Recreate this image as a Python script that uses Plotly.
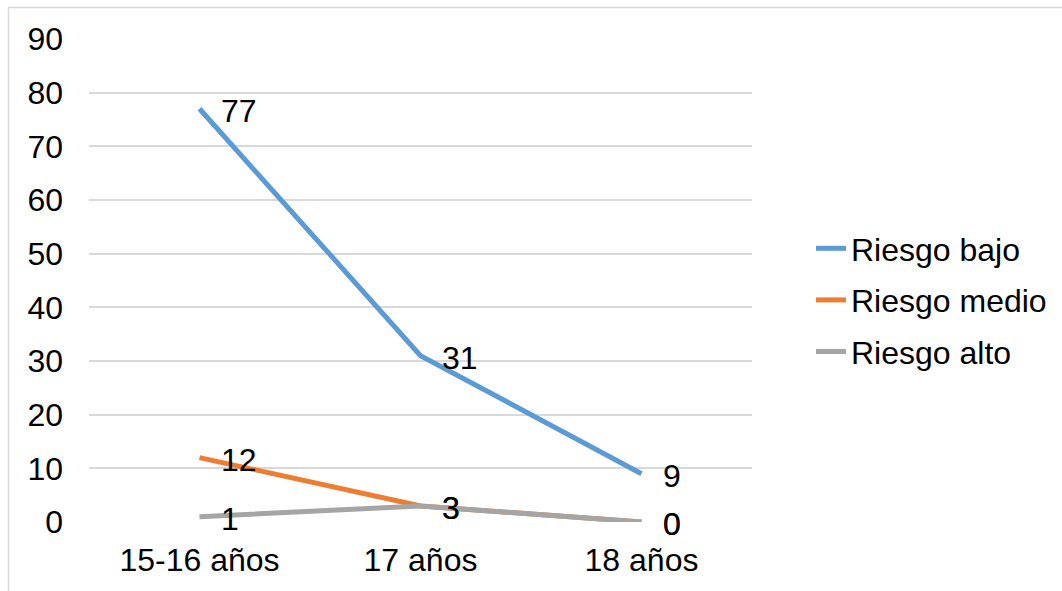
import plotly.graph_objects as go

categories = ["15-16 años", "17 años", "18 años"]
riesgo_bajo = [77, 31, 9]
riesgo_medio = [12, 3, 0]
riesgo_alto = [1, 3, 0]

series = [
    ("Riesgo bajo", riesgo_bajo, "#5B9BD5"),
    ("Riesgo medio", riesgo_medio, "#ED7D31"),
    ("Riesgo alto", riesgo_alto, "#A5A5A5"),
]

FONT = "Liberation Sans, Arial, sans-serif"
FS = 32

fig = go.Figure()
annotations = []
for i, (name, vals, color) in enumerate(series):
    fig.add_trace(go.Scatter(
        x=categories, y=vals, name=name, mode="lines",
        line=dict(color=color, width=5),
        legendgroup=f"g{i}",
    ))
    for c, v in zip(categories, vals):
        annotations.append(dict(
            x=c, y=v, text=str(v), showarrow=False,
            xanchor="left", yanchor="middle", xshift=19, yshift=-2,
            font=dict(family=FONT, size=FS, color="#000000"),
        ))

W, H = 1062, 591
L, R, T, B = 89, 310, 39, 69
pw, ph = W - L - R, H - T - B

def px_x(p):
    return (p - L) / pw

def px_y(p):
    return (H - B - p) / ph

fig.update_layout(
    width=W, height=H,
    margin=dict(l=L, r=R, t=T, b=B),
    paper_bgcolor="white", plot_bgcolor="white",
    font=dict(family=FONT, size=FS, color="#000000"),
    annotations=annotations,
    showlegend=True,
    legend=dict(
        xref="container", yref="container",
        x=811 / W, y=1 - 221 / H, xanchor="left", yanchor="top",
        font=dict(family=FONT, size=FS, color="#000000"),
        tracegroupgap=7, bgcolor="rgba(0,0,0,0)",
    ),
    xaxis=dict(
        type="category", range=[-0.5, 2.5], showgrid=False, zeroline=False,
        showline=False, ticks="", ticklabelstandoff=16,
        tickfont=dict(family=FONT, size=FS, color="#000000"),
    ),
    yaxis=dict(
        range=[0, 90], dtick=10, tick0=0, showgrid=True,
        gridcolor="#D9D9D9", gridwidth=1.5, zeroline=False, showline=False,
        ticks="", ticklabelstandoff=25,
        tickfont=dict(family=FONT, size=FS, color="#000000"),
    ),
    shapes=[dict(
        type="rect", xref="paper", yref="paper",
        x0=px_x(8.5), x1=px_x(1080), y0=px_y(610), y1=px_y(7.5),
        line=dict(color="#D9D9D9", width=1.5), fillcolor="rgba(0,0,0,0)",
        layer="below",
    )],
)

fig.write_html("out.html")
